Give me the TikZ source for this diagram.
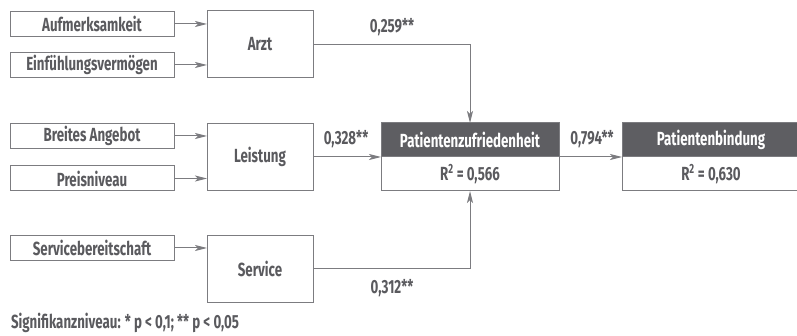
\documentclass[tikz,border=0pt]{standalone}
\usepackage{fontspec}
\setmainfont{Fira Sans}[FakeStretch=0.7]
\usetikzlibrary{positioning,arrows.meta}
\definecolor{textgrau}{HTML}{5A5A5E}
\definecolor{liniengrau}{HTML}{7C7C80}
\definecolor{kopfgrau}{HTML}{5E5E62}

\begin{document}
\begin{tikzpicture}[x=1pt,y=-1pt,
	every node/.style={font=\bfseries\fontsize{19}{21}\selectfont, text=textgrau, inner sep=0pt, outer sep=0pt},
	item/.style={draw=liniengrau, line width=1pt, minimum width=164pt, minimum height=25pt},
	konstrukt/.style={draw=liniengrau, line width=1pt, minimum width=106pt, minimum height=67pt},
	kopf/.style={draw=liniengrau, fill=kopfgrau, text=white, line width=1pt, minimum width=178pt, minimum height=34pt},
	wert/.style={draw=liniengrau, line width=1pt, minimum width=178pt, minimum height=34pt},
	pfeil/.style={draw=liniengrau, line width=1pt, -{Stealth[length=12pt,width=6pt,inset=3pt]}}]
\useasboundingbox (0,0) rectangle (797,336);
% Indikatoren
\node[item] (auf) at (92,24) {Aufmerksamkeit};
\node[item] (einf) at (92,65) {Einfühlungsvermögen};
\node[item] (breit) at (92,136) {Breites Angebot};
\node[item] (preis) at (92,178.5) {Preisniveau};
\node[item] (servb) at (92,248) {Servicebereitschaft};
% Konstrukte
\node[konstrukt] (arzt) at (260,44.5) {Arzt};
\node[konstrukt] (leist) at (260,157) {Leistung};
\node[konstrukt] (serv) at (260,269) {Service};
\node[kopf] (pz) at (470,140) {Patientenzufriedenheit};
\node[wert] (pzr) at (470,174) {R\textsuperscript{2} = 0,566};
\node[kopf] (pb) at (711,140) {Patientenbindung};
\node[wert] (pbr) at (711,174) {R\textsuperscript{2} = 0,630};
% Pfeile
\draw[pfeil] (auf.east) -- (auf.east -| arzt.west);
\draw[pfeil] (einf.east) -- (einf.east -| arzt.west);
\draw[pfeil] (breit.east) -- (breit.east -| leist.west);
\draw[pfeil] (preis.east) -- (preis.east -| leist.west);
\draw[pfeil] (servb.east) -- (servb.east -| serv.west);
\draw[pfeil] (arzt.east) -| (pz.north);
\draw[pfeil] (leist.east) -- (pz.south west);
\draw[pfeil] (serv.east) -| (pzr.south);
\draw[pfeil] (pz.south east) -- (pb.south west);
% Koeffizienten
\node (k1) at (392,27) {0,259**};
\node (k2) at (346,139) {0,328**};
\node (k3) at (592,139) {0,794**};
\node (k4) at (392,288.5) {0,312**};
\node[anchor=base west] (fuss) at (11,328) {Signifikanzniveau: * p < 0,1; ** p < 0,05};
\end{tikzpicture}
\end{document}
